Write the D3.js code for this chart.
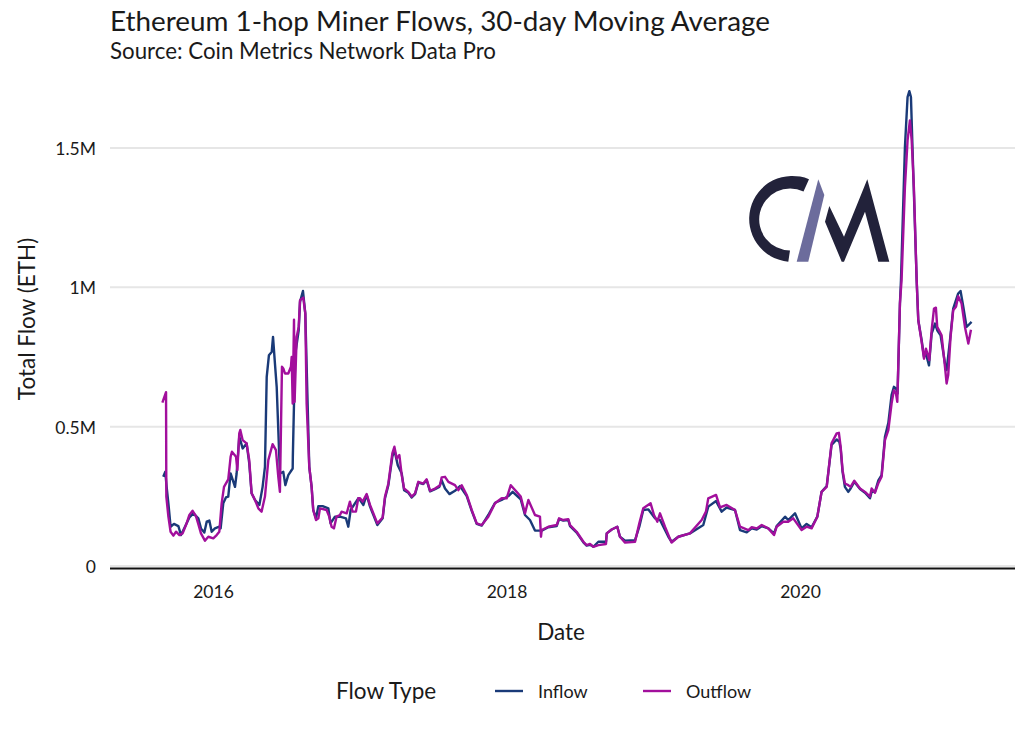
<!DOCTYPE html>
<html><head><meta charset="utf-8">
<script src="https://cdnjs.cloudflare.com/ajax/libs/d3/7.8.5/d3.min.js"></script>
<style>html,body{margin:0;padding:0;background:#fff}text{font-family:Lato,sans-serif;fill:#1a1a1a}</style>
</head><body><svg id="c" width="1024" height="731"></svg>
<script>
const yearTicks=[2016,2018,2020];
const valueTicks=[0,500,1000,1500];
const valueTickLabels=["0","0.5M","1M","1.5M"];
const seriesNames=["Inflow","Outflow"];
const inflowYears=[2015.661,2015.675,2015.684,2015.696,2015.711,2015.734,2015.764,2015.782,2015.809,2015.839,2015.866,2015.900,2015.918,2015.941,2015.957,2015.975,2015.991,2016.013,2016.043,2016.052,2016.070,2016.088,2016.104,2016.120,2016.150,2016.161,2016.179,2016.202,2016.229,2016.247,2016.263,2016.286,2016.316,2016.338,2016.354,2016.366,2016.381,2016.400,2016.409,2016.422,2016.434,2016.450,2016.456,2016.479,2016.493,2016.513,2016.543,2016.544,2016.552,2016.561,2016.584,2016.593,2016.613,2016.629,2016.643,2016.656,2016.672,2016.683,2016.702,2016.718,2016.747,2016.786,2016.801,2016.831,2016.865,2016.906,2016.922,2016.938,2016.990,
2017.002,2017.025,2017.047,2017.070,2017.093,2017.120,2017.156,2017.172,2017.195,2017.222,2017.236,2017.259,2017.286,2017.302,2017.331,2017.354,2017.377,2017.399,2017.433,2017.456,2017.479,2017.513,2017.542,2017.558,2017.581,2017.611,2017.649,2017.683,2017.729,2017.763,2017.797,2017.831,2017.876,2017.922,2017.967,2018.013,2018.042,2018.097,2018.126,2018.160,2018.194,2018.240,2018.285,2018.342,2018.358,2018.387,2018.421,2018.433,2018.478,2018.524,2018.546,2018.569,
2018.592,2018.626,2018.678,2018.683,2018.717,2018.755,2018.773,2018.808,2018.876,2018.905,2018.932,2018.967,2019.012,2019.046,2019.103,2019.125,2019.171,2019.250,2019.341,2019.375,2019.428,2019.466,2019.500,2019.557,2019.591,2019.637,2019.671,2019.705,2019.739,2019.784,2019.823,2019.841,2019.898,2019.920,2019.966,2020.011,2020.045,2020.079,2020.118,2020.147,2020.182,2020.215,2020.250,2020.268,
2020.277,2020.290,2020.306,2020.329,2020.345,2020.370,2020.409,2020.443,2020.477,2020.488,2020.511,2020.533,2020.556,2020.579,2020.602,2020.624,2020.640,2020.654,2020.665,2020.681,2020.688,2020.715,2020.733,2020.745,2020.756,2020.772,2020.795,2020.806,2020.829,2020.845,2020.858,2020.879,2020.897,2020.920,2020.935,2020.958,2020.988,2020.999,2021.022,2021.044,2021.078,2021.094,2021.113,2021.135,2021.147,2021.169];
const inflowValues=[320,338,284,225,141,151,143,111,141,174,189,171,135,120,159,163,123,135,141,135,225,246,249,332,284,332,464,422,440,368,261,237,219,284,356,679,756,768,822,727,643,416,332,338,290,326,350,392,583,762,846,948,987,906,619,356,284,201,171,215,215,207,153,177,177,171,141,201,243,
237,219,255,213,183,147,171,243,290,392,416,362,332,272,263,246,258,299,294,308,268,276,284,308,278,258,270,287,251,198,151,145,183,227,237,251,266,239,183,165,127,127,139,143,168,163,165,143,120,85,73,76,
69,87,87,117,131,141,105,91,93,141,201,203,171,165,105,87,105,117,147,213,233,195,210,201,129,121,135,131,143,135,117,143,177,165,189,135,151,139,177,266,287,434,454,446,
422,338,284,266,278,302,276,263,243,266,266,306,326,464,514,613,643,637,619,942,1025,1503,1683,1704,1683,1408,1025,882,810,750,762,720,834,870,846,828,727,703,810,924,978,987,930,858,864,876];
const outflowYears=[2015.655,2015.680,2015.682,2015.696,2015.711,2015.730,2015.748,2015.771,2015.793,2015.816,2015.839,2015.861,2015.884,2015.902,2015.918,2015.945,2015.968,2016.002,2016.025,2016.043,2016.059,2016.075,2016.104,2016.120,2016.129,2016.157,2016.166,2016.179,2016.186,2016.202,2016.229,2016.247,2016.263,2016.286,2016.309,2016.331,2016.354,2016.377,2016.406,2016.429,2016.445,2016.456,2016.470,2016.479,2016.490,2016.513,2016.531,2016.536,2016.543,2016.552,2016.556,2016.570,2016.584,2016.593,2016.615,2016.629,2016.638,2016.656,2016.672,2016.683,2016.702,2016.718,2016.729,2016.774,2016.792,2016.808,2016.824,2016.842,2016.865,2016.876,2016.911,2016.933,2016.951,2016.974,2016.990,
2017.002,2017.020,2017.047,2017.070,2017.093,2017.120,2017.156,2017.172,2017.195,2017.222,2017.236,2017.252,2017.270,2017.286,2017.302,2017.331,2017.354,2017.377,2017.399,2017.433,2017.456,2017.479,2017.513,2017.547,2017.558,2017.581,2017.604,2017.649,2017.672,2017.695,2017.729,2017.763,2017.797,2017.831,2017.876,2017.922,2017.967,2018.001,2018.029,2018.069,2018.097,2018.126,2018.149,2018.194,2018.228,2018.235,2018.240,2018.285,2018.342,2018.358,2018.387,2018.421,2018.433,2018.478,2018.524,2018.546,2018.569,
2018.592,2018.626,2018.678,2018.683,2018.717,2018.755,2018.773,2018.808,2018.876,2018.905,2018.932,2018.982,2019.005,2019.028,2019.046,2019.080,2019.125,2019.171,2019.250,2019.330,2019.359,2019.375,2019.428,2019.455,2019.500,2019.557,2019.591,2019.648,2019.671,2019.705,2019.739,2019.784,2019.823,2019.841,2019.886,2019.920,2019.954,2020.011,2020.045,2020.079,2020.118,2020.147,2020.182,2020.215,2020.250,
2020.265,2020.277,2020.290,2020.306,2020.329,2020.345,2020.370,2020.409,2020.443,2020.477,2020.488,2020.511,2020.533,2020.556,2020.579,2020.602,2020.624,2020.640,2020.654,2020.663,2020.681,2020.692,2020.715,2020.733,2020.749,2020.761,2020.776,2020.795,2020.806,2020.829,2020.845,2020.858,2020.881,2020.897,2020.913,2020.926,2020.935,2020.965,2020.988,2020.999,2021.010,2021.026,2021.044,2021.063,2021.078,2021.101,2021.124,2021.147,2021.165];
const outflowValues=[586,624,249,177,123,109,123,111,117,147,183,198,179,147,117,91,105,99,111,123,225,284,311,392,410,392,344,476,488,452,440,380,261,237,207,195,249,380,437,416,320,266,715,709,691,691,715,750,583,884,589,822,858,954,963,906,583,356,284,201,165,171,207,201,177,141,135,177,183,195,189,231,195,195,243,
243,231,258,219,189,153,174,249,296,404,428,386,398,326,278,266,249,261,302,296,311,270,278,290,318,320,302,290,272,290,255,201,153,147,177,225,243,243,290,266,249,189,237,183,177,105,129,141,147,171,165,168,147,123,87,75,79,
69,75,79,117,131,141,105,84,87,153,207,225,183,159,189,141,84,105,117,165,195,243,255,210,219,201,141,129,139,135,147,135,111,141,159,159,171,129,141,135,177,266,284,440,476,
478,428,344,296,290,284,306,278,266,249,278,263,296,320,452,488,583,631,619,589,942,1025,1360,1527,1599,1527,1360,1025,882,804,744,780,739,846,924,927,858,828,715,655,685,822,918,930,968,942,858,798,848];

const W=1024,H=731,L=110,R=1015,B=566;
const x=d3.scaleLinear().domain([2016,2020]).range([213,800]);
const y=d3.scaleLinear().domain([0,1500]).range([B,148]);
const svg=d3.select("#c");
const ink="#1a1a1a";

svg.append("g").selectAll("line").data(valueTicks).join("line")
  .attr("x1",L).attr("x2",R).attr("y1",d=>y(d)).attr("y2",d=>y(d))
  .attr("stroke","#e6e6e6").attr("stroke-width",2);
svg.append("line").attr("x1",L).attr("x2",R).attr("y1",B+2.5).attr("y2",B+2.5).attr("stroke","#111").attr("stroke-width",2);

const xAxis=svg.append("g").attr("transform",`translate(0,${B+2})`).call(d3.axisBottom(x).tickValues(yearTicks).tickFormat(d3.format("d")).tickSize(0).tickPadding(18));
xAxis.select(".domain").remove();
xAxis.selectAll("text").attr("font-size",17.5).style("font-family","Lato").attr("fill",ink);
const yAxis=svg.append("g").attr("transform",`translate(${L},1)`).call(d3.axisLeft(y).tickValues(valueTicks).tickFormat((d,i)=>valueTickLabels[i]).tickSize(0).tickPadding(14));
yAxis.select(".domain").remove();
yAxis.selectAll("text").attr("font-size",17.5).style("font-family","Lato").attr("fill",ink);

// logo
const logo=svg.append("g");
logo.append("path").attr("fill","#22223a").attr("d","M809,179.3 A43,43 0 1 0 788.3,261.7 L790,250.5 A31,31 0 1 1 803.5,191.5 Z");
logo.append("path").attr("fill","#6c6c9c").attr("d","M818.3,179.3 L824.3,195 L808.3,261.7 L796.7,261.7 Z");
logo.append("path").attr("fill","#22223a").attr("d","M867.3,179.3 L889.3,261.7 L878.3,261.7 L865,211.7 L844,261.7 L841.7,261.7 L825,221.7 L829.3,206 L844,236.7 Z");

const line=d3.line().x(d=>x(d[0])).y(d=>y(d[1])).curve(d3.curveLinear);
const colors=d3.scaleOrdinal().domain(seriesNames).range(["#1a3a78","#a20f9c"]);
svg.append("path").datum(d3.zip(inflowYears,inflowValues)).attr("d",line).attr("fill","none").attr("stroke",colors("Inflow")).attr("stroke-width",2.4).attr("stroke-linejoin","round");
svg.append("path").datum(d3.zip(outflowYears,outflowValues)).attr("d",line).attr("fill","none").attr("stroke",colors("Outflow")).attr("stroke-width",2.4).attr("stroke-linejoin","round");

svg.append("text").attr("x",110).attr("y",31).attr("font-size",27.85).text("Ethereum 1-hop Miner Flows, 30-day Moving Average");
svg.append("text").attr("x",110).attr("y",59).attr("font-size",22.3).text("Source: Coin Metrics Network Data Pro");
svg.append("text").attr("x",561).attr("y",640).attr("text-anchor","middle").attr("font-size",22.5).text("Date");
svg.append("text").attr("transform","translate(35,319) rotate(-90)").attr("text-anchor","middle").attr("font-size",22.5).text("Total Flow (ETH)");
svg.append("text").attr("x",336).attr("y",699).attr("font-size",22.5).text("Flow Type");
const legX={Inflow:495,Outflow:643};
seriesNames.forEach(n=>{
  svg.append("line").attr("x1",legX[n]).attr("x2",legX[n]+28).attr("y1",691).attr("y2",691).attr("stroke",colors(n)).attr("stroke-width",2.4);
  svg.append("text").attr("x",legX[n]+43).attr("y",698).attr("font-size",18).text(n);
});
</script></body></html>
